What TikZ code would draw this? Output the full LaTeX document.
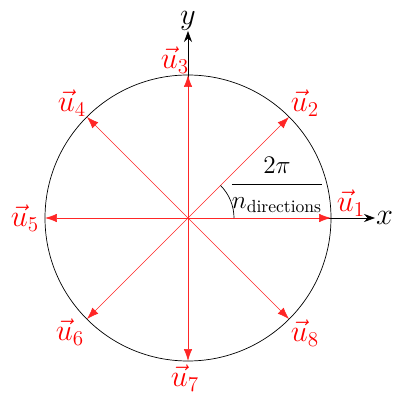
\documentclass[tikz,border=0pt]{standalone}
\usepackage{amsmath}
\usepackage{tikz}
\usetikzlibrary{arrows.meta}

\begin{document}
\begin{tikzpicture}[
  vec/.style={-{Latex[length=2.4mm,width=1.7mm]}, red!85!white, thin},
  ax/.style={-{Stealth[length=2.2mm,width=1.6mm]}, black},
  lab/.style={red, font=\LARGE, inner sep=0pt}
]
\useasboundingbox (-3.76,-3.64) rectangle (4.10,4.36);
\coordinate (o) at (0,0);
\draw (o) circle (2.86);
\draw[ax] (o) -- (3.74,0) coordinate (xe);
\draw[ax] (o) -- (0,3.74) coordinate (ye);
\node[font=\LARGE, anchor=west, inner sep=0.5pt] (xl) at (xe) {$x$};
\node[font=\LARGE, anchor=south, inner sep=0pt] (yl) at (ye) {$y$};
\foreach \i in {1,...,8}
  \coordinate (p\i) at ({45*(\i-1)}:2.86);
\foreach \i in {1,...,8}
  \draw[vec] (o) -- (p\i);
\draw (0.92,0) arc (0:45:0.92);
\node[font=\Large] (ang) at (1.78,0.66) {$\dfrac{2\pi}{n_{\text{directions}}}$};
\node[lab] (u1) at (3.26,0.30) {$\vec{u}_1$};
\node[lab] (u2) at (2.34,2.30) {$\vec{u}_2$};
\node[lab] (u3) at (-0.26,3.16) {$\vec{u}_3$};
\node[lab] (u4) at (-2.32,2.30) {$\vec{u}_4$};
\node[lab] (u5) at (-3.26,0.00) {$\vec{u}_5$};
\node[lab] (u6) at (-2.36,-2.28) {$\vec{u}_6$};
\node[lab] (u7) at (-0.06,-3.20) {$\vec{u}_7$};
\node[lab] (u8) at (2.34,-2.30) {$\vec{u}_8$};
\end{tikzpicture}
\end{document}
